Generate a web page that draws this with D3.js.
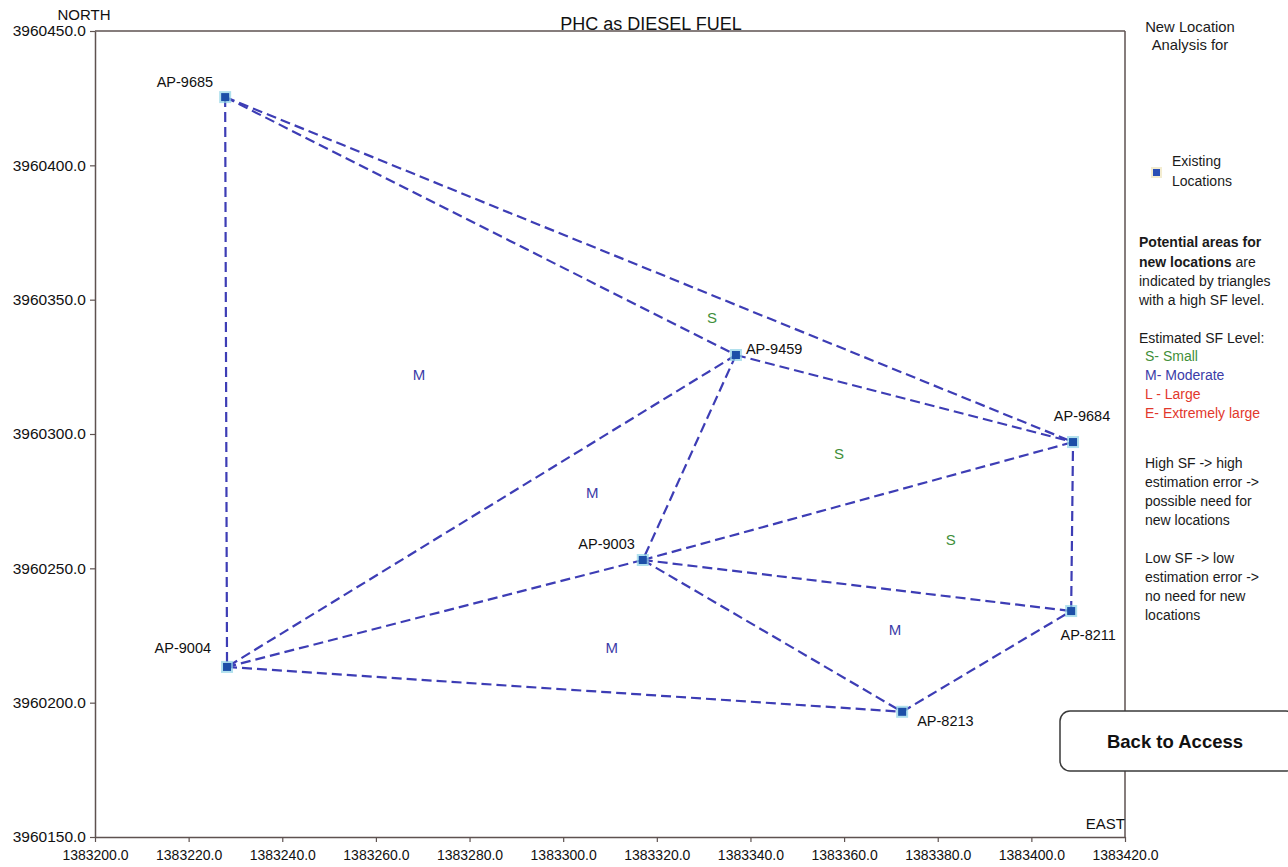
<!DOCTYPE html>
<html>
<head>
<meta charset="utf-8">
<script src="https://cdn.jsdelivr.net/npm/d3@7"></script>
<style>
  html, body { margin: 0; padding: 0; background: #fff; }
  svg { display: block; font-family: "Liberation Sans", Arial, sans-serif; }
</style>
</head>
<body>
<svg id="chart" width="1288" height="867"></svg>
<script>
// Existing sampling locations (easting / northing)
const locNames = ["AP-9685", "AP-9004", "AP-9459", "AP-9684", "AP-9003", "AP-8211", "AP-8213"];
const locEast  = [1383227.8, 1383228.2, 1383336.9, 1383408.9, 1383317.0, 1383408.5, 1383372.4];
const locNorth = [3960425.4, 3960213.3, 3960329.4, 3960297.0, 3960253.1, 3960234.1, 3960196.6];

// Triangulation edges between locations
const edgeFrom = ["AP-9685", "AP-9685", "AP-9685", "AP-9459", "AP-9459", "AP-9459", "AP-9003", "AP-9003", "AP-9003", "AP-9003", "AP-9004", "AP-8213", "AP-8211"];
const edgeTo   = ["AP-9004", "AP-9459", "AP-9684", "AP-9684", "AP-9004", "AP-9003", "AP-9004", "AP-9684", "AP-8211", "AP-8213", "AP-8213", "AP-8211", "AP-9684"];

// Estimated SF level per triangle
const sfLevel = ["M", "S", "M", "S", "S", "M", "M"];
const sfEast  = [1383269.2, 1383331.8, 1383306.2, 1383358.9, 1383382.8, 1383310.4, 1383370.9];
const sfNorth = [3960322.0, 3960343.2, 3960278.4, 3960292.9, 3960260.9, 3960220.7, 3960227.4];

// Axis ticks
const xTicks = [1383200, 1383220, 1383240, 1383260, 1383280, 1383300, 1383320, 1383340, 1383360, 1383380, 1383400, 1383420];
const yTicks = [3960150, 3960200, 3960250, 3960300, 3960350, 3960400, 3960450];

(function () {
const sfColor = { S: "#3f8f3a", M: "#3c3ca8", L: "#e2382c", E: "#e2382c" };
const lineColor = "#3d3db5";
const frameColor = "#5e5250";

// label placement relative to each marker
const labelLayout = {
  "AP-9685": { dx: -12, dy: -10, anchor: "end" },
  "AP-9004": { dx: -16, dy: -14, anchor: "end" },
  "AP-9459": { dx: 10, dy: -1, anchor: "start" },
  "AP-9684": { dx: 9, dy: -21, anchor: "middle" },
  "AP-9003": { dx: -8, dy: -11, anchor: "end" },
  "AP-8211": { dx: 17, dy: 29, anchor: "middle" },
  "AP-8213": { dx: 15, dy: 14, anchor: "start" }
};

const svg = d3.select("#chart");
const mLeft = 95, mRight = 1125, mTop = 31, mBottom = 837;

const x = d3.scaleLinear().domain([1383200, 1383420]).range([mLeft, mRight]);
const y = d3.scaleLinear().domain([3960150, 3960450]).range([mBottom, mTop]);

const locs = locNames.map((n, i) => ({ name: n, e: locEast[i], n: locNorth[i] }));
const byName = Object.fromEntries(locs.map(d => [d.name, d]));

// frame: top and right edges
svg.append("line").attr("x1", mLeft).attr("x2", mRight).attr("y1", mTop).attr("y2", mTop)
  .attr("stroke", frameColor).attr("stroke-width", 1.5);
svg.append("line").attr("x1", mRight).attr("x2", mRight).attr("y1", mTop).attr("y2", mBottom)
  .attr("stroke", frameColor).attr("stroke-width", 1.5);

// axes
const fmt = d3.format(".1f");
const xAxis = svg.append("g").attr("transform", `translate(0,${mBottom})`)
  .call(d3.axisBottom(x).tickValues(xTicks).tickFormat(fmt).tickSize(5).tickSizeOuter(0));
const yAxis = svg.append("g").attr("transform", `translate(${mLeft},0)`)
  .call(d3.axisLeft(y).tickValues(yTicks).tickFormat(fmt).tickSize(5).tickSizeOuter(0));
[xAxis, yAxis].forEach(g => {
  g.select(".domain").attr("stroke", frameColor).attr("stroke-width", 1.5);
  g.selectAll(".tick line").attr("stroke", frameColor).attr("stroke-width", 1.2);
  g.selectAll(".tick text").attr("fill", "#111")
    .style("font-family", "'Liberation Sans', Arial, sans-serif");
});
xAxis.selectAll(".tick text").style("font-size", "14px").attr("dy", "1.05em");
yAxis.selectAll(".tick text").style("font-size", "15.5px").attr("x", -9);

// axis captions and title
svg.append("text").attr("x", 84).attr("y", 20).attr("text-anchor", "middle")
  .style("font-size", "15px").attr("fill", "#111").text("NORTH");
svg.append("text").attr("x", 1125).attr("y", 829).attr("text-anchor", "end")
  .style("font-size", "15px").attr("fill", "#111").text("EAST");
svg.append("text").attr("x", 651).attr("y", 30).attr("text-anchor", "middle")
  .style("font-size", "18px").attr("fill", "#111").text("PHC as DIESEL FUEL");

// triangulation edges
const edges = edgeFrom.map((f, i) => ({ a: byName[f], b: byName[edgeTo[i]] }));
svg.append("g").selectAll("line").data(edges).join("line")
  .attr("x1", d => x(d.a.e)).attr("y1", d => y(d.a.n))
  .attr("x2", d => x(d.b.e)).attr("y2", d => y(d.b.n))
  .attr("stroke", lineColor).attr("stroke-width", 2.2)
  .attr("stroke-dasharray", "10,5");

// SF level letters
const sf = sfLevel.map((s, i) => ({ s, e: sfEast[i], n: sfNorth[i] }));
svg.append("g").selectAll("text").data(sf).join("text")
  .attr("x", d => x(d.e)).attr("y", d => y(d.n))
  .attr("text-anchor", "middle").attr("dominant-baseline", "central")
  .style("font-size", "15px").attr("fill", d => sfColor[d.s]).text(d => d.s);

// location markers
const mk = svg.append("g").selectAll("g").data(locs).join("g")
  .attr("transform", d => `translate(${x(d.e)},${y(d.n)})`);
mk.append("rect").attr("x", -6).attr("y", -6).attr("width", 12).attr("height", 12)
  .attr("fill", "#8fd3e6").attr("opacity", 0.7);
mk.append("rect").attr("x", -4).attr("y", -4).attr("width", 8).attr("height", 8)
  .attr("fill", "#1c4fa8");

// location labels
svg.append("g").selectAll("text").data(locs).join("text")
  .attr("x", d => x(d.e) + labelLayout[d.name].dx)
  .attr("y", d => y(d.n) + labelLayout[d.name].dy)
  .attr("text-anchor", d => labelLayout[d.name].anchor)
  .style("font-size", "14.5px").attr("fill", "#111").text(d => d.name);

// side panel
const panel = svg.append("g").style("font-size", "14px").attr("fill", "#1a1a1a");
panel.append("text").attr("x", 1190).attr("y", 32).attr("text-anchor", "middle")
  .style("font-size", "14.8px").text("New Location");
panel.append("text").attr("x", 1190).attr("y", 50).attr("text-anchor", "middle")
  .style("font-size", "14.8px").text("Analysis for");

panel.append("rect").attr("x", 1151).attr("y", 167).attr("width", 11).attr("height", 11).attr("fill", "#f3ecd0");
panel.append("rect").attr("x", 1153).attr("y", 169).attr("width", 7).attr("height", 7).attr("fill", "#2a4fb5");
panel.append("text").attr("x", 1172).attr("y", 166).text("Existing");
panel.append("text").attr("x", 1172).attr("y", 186).text("Locations");

const p1 = panel.append("text").attr("x", 1139).attr("y", 247);
p1.append("tspan").style("font-weight", "bold").text("Potential areas for");
const p2 = panel.append("text").attr("x", 1139).attr("y", 267);
p2.append("tspan").style("font-weight", "bold").text("new locations");
p2.append("tspan").text(" are");
panel.append("text").attr("x", 1139).attr("y", 286).text("indicated by triangles");
panel.append("text").attr("x", 1139).attr("y", 305).text("with a high SF level.");

panel.append("text").attr("x", 1139).attr("y", 343).text("Estimated SF Level:");
const levels = [["S- Small", "S"], ["M- Moderate", "M"], ["L - Large", "L"], ["E- Extremely large", "E"]];
levels.forEach((l, i) => {
  panel.append("text").attr("x", 1145).attr("y", 361 + i * 19).attr("fill", sfColor[l[1]]).text(l[0]);
});

["High SF -> high", "estimation error ->", "possible need for", "new  locations"].forEach((t, i) => {
  panel.append("text").attr("x", 1145).attr("y", 468 + i * 19).text(t);
});
["Low  SF -> low", "estimation error ->", "no need for new", "locations"].forEach((t, i) => {
  panel.append("text").attr("x", 1145).attr("y", 563 + i * 19).text(t);
});

// button
svg.append("rect").attr("x", 1060).attr("y", 711).attr("width", 236).attr("height", 60)
  .attr("rx", 10).attr("ry", 10).attr("fill", "#fff").attr("stroke", "#3a3a3a").attr("stroke-width", 1.5);
svg.append("text").attr("x", 1175).attr("y", 748).attr("text-anchor", "middle")
  .style("font-size", "18.5px").style("font-weight", "bold").attr("fill", "#111").text("Back to Access");
})();
</script>
</body>
</html>
